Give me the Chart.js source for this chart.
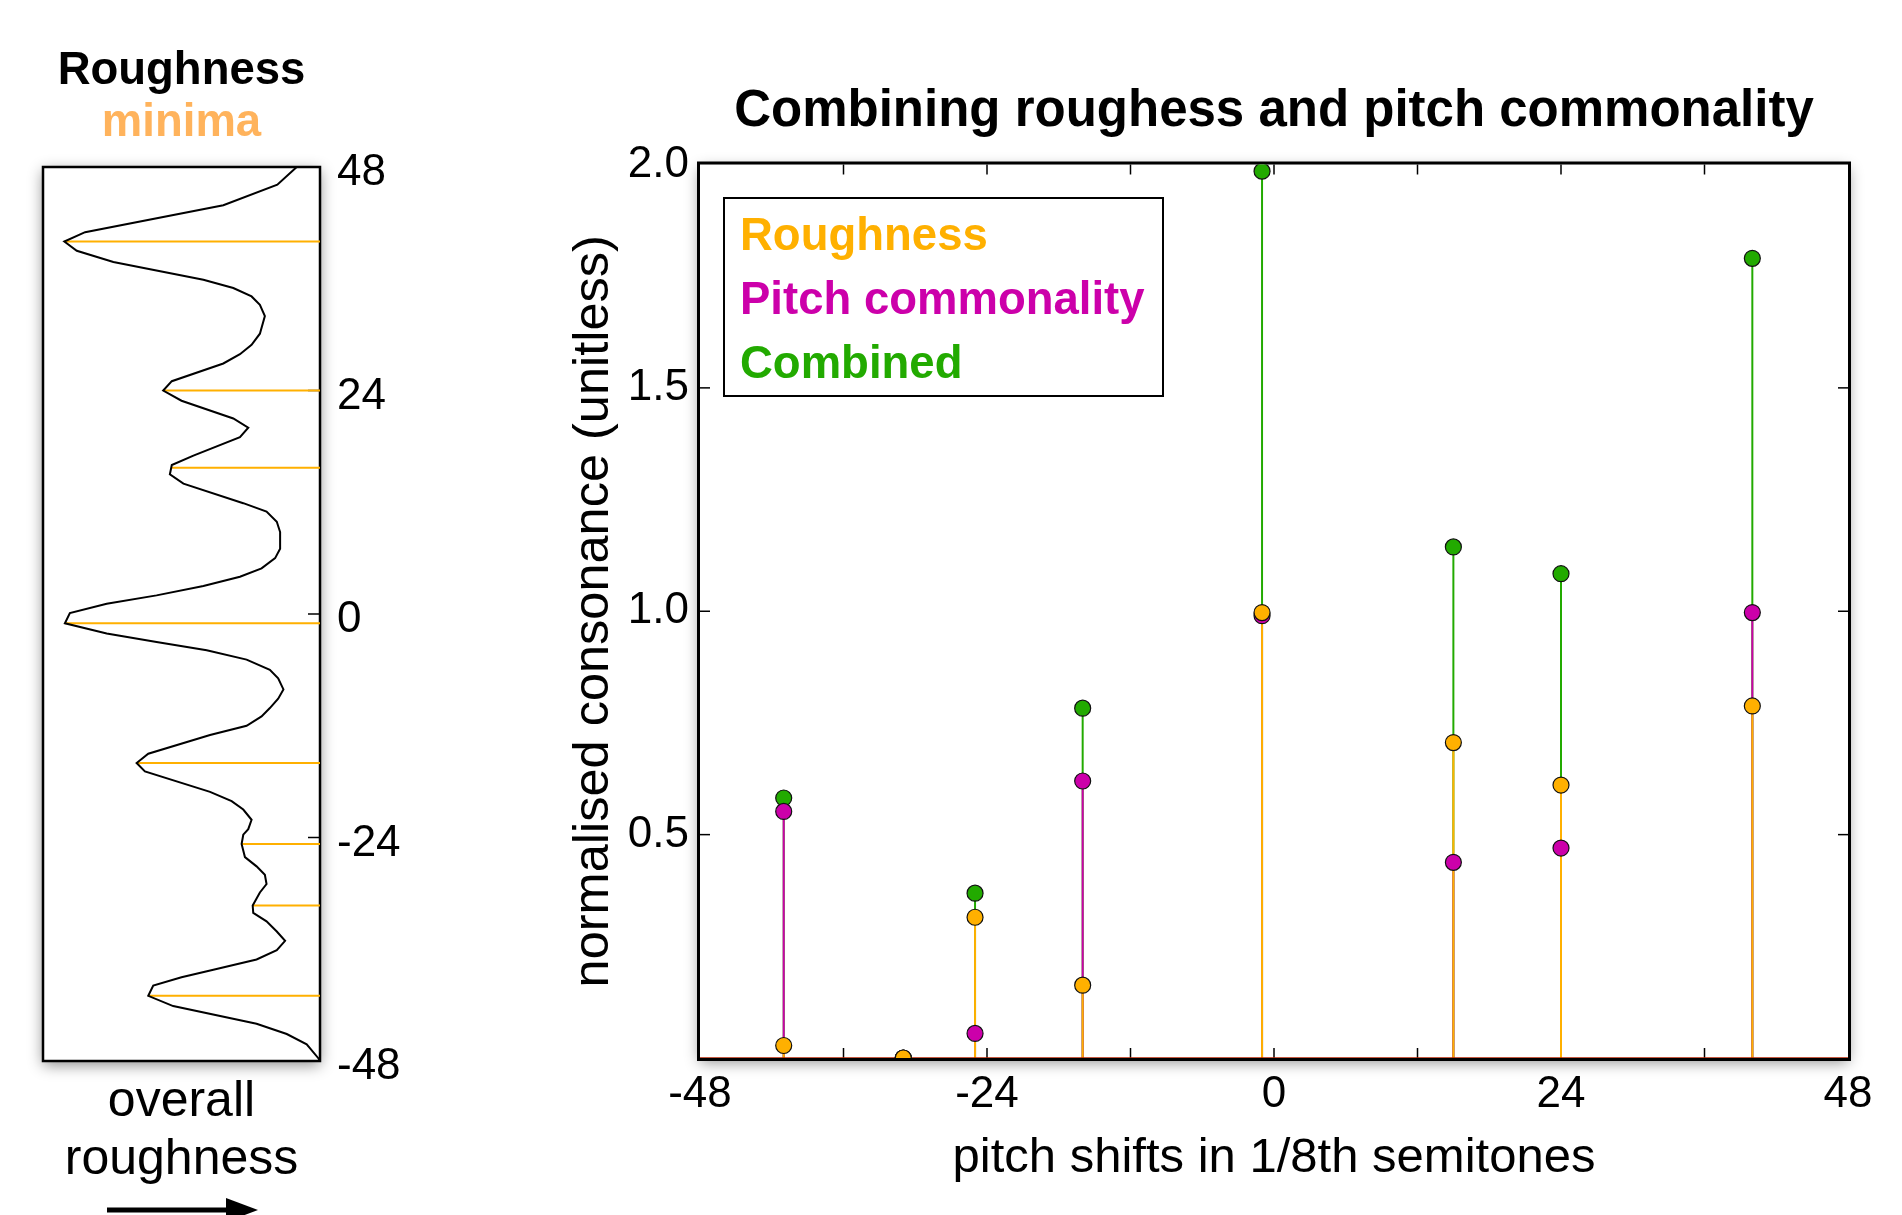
<!DOCTYPE html>
<html>
<head>
<meta charset="utf-8">
<title>Combining roughess and pitch commonality</title>
<script src="https://cdn.jsdelivr.net/npm/chart.js@4.4.1/dist/chart.umd.min.js"></script>
<style>
  html, body { margin: 0; padding: 0; background: #fff; }
  body { width: 1902px; height: 1215px; position: relative; overflow: hidden; }
  canvas { position: absolute; top: 0; }
  #roughChart { left: 0; }
  #stemChart { left: 440px; }
</style>
</head>
<body>
<canvas id="roughChart" width="440" height="1215"></canvas>
<canvas id="stemChart" width="1462" height="1215"></canvas>
<script>
(function () {
    'use strict';

    // ── Data ──────────────────────────────────────────────────────────────────
    // overall roughness curve along the pitch-shift axis (1/8th semitones)
    var curveShift = [48, 46.1, 43.9, 41.0, 40.0, 39.0, 37.8, 35.9, 35.0, 34.1, 33.2, 32.0,
        30.1, 28.9, 27.9, 26.9, 25.0, 24.0, 22.9, 21.0, 20.0, 19.0, 17.0, 16.0, 15.0, 14.0,
        11.9, 11.0, 9.9, 8.8, 7.0, 6.0, 4.9, 4.0, 3.0, 2.0, 1.1, 0.1, -1.0, -2.1, -3.0, -3.9,
        -4.9, -6.0, -6.9, -8.1, -9.1, -10.1, -11.0, -12.0, -13.0, -15.0, -16.0, -16.9, -19.1,
        -20.1, -21.0, -22.1, -23.1, -23.7, -24.7, -26.1, -27.1, -28.0, -29.0, -29.9, -31.3,
        -32.1, -33.0, -34.1, -35.1, -36.1, -37.1, -38.2, -39.0, -39.9, -41.0, -42.1, -44.0,
        -45.1, -46.2, -47.7, -48];
    var curveRough = [0.916, 0.846, 0.651, 0.152, 0.077, 0.122, 0.254, 0.579, 0.687, 0.753, 0.783, 0.801,
        0.783, 0.753, 0.711, 0.651, 0.465, 0.434, 0.500, 0.687, 0.741, 0.711, 0.543, 0.465, 0.458, 0.507,
        0.723, 0.807, 0.844, 0.856, 0.856, 0.838, 0.789, 0.711, 0.579, 0.410, 0.230, 0.097, 0.079, 0.230, 0.410, 0.591,
        0.735, 0.819, 0.849, 0.868, 0.849, 0.819, 0.789, 0.735, 0.603, 0.380, 0.338, 0.368, 0.603,
        0.681, 0.723, 0.753, 0.741, 0.723, 0.717, 0.729, 0.771, 0.801, 0.807, 0.783, 0.757,
        0.759, 0.807, 0.844, 0.874, 0.844, 0.771, 0.615, 0.500, 0.398, 0.380, 0.470, 0.771,
        0.880, 0.952, 0.994, 1.0];

    // local minima of the roughness curve
    var minimaShift = [40, 24, 15.7, -1, -16, -24.7, -31.3, -41];
    var minimaRough = [0.077, 0.434, 0.465, 0.079, 0.338, 0.717, 0.757, 0.380];
    var shiftTicks = [-48, -24, 0, 24, 48];
    var shiftTickMarks = [-24, 0, 24];

    // consonance measures at each candidate shift
    var shifts = [-41, -31, -25, -16, -1, 15, 24, 40];
    var roughness = [0.028, 0, 0.315, 0.163, 0.997, 0.706, 0.611, 0.788];
    var pitchCommonality = [0.552, 0, 0.055, 0.620, 0.990, 0.438, 0.470, 0.997];
    var combined = [0.582, 0, 0.369, 0.783, 1.985, 1.144, 1.084, 1.790];
    var seriesLabels = ['Roughness', 'Pitch commonality', 'Combined'];

    var xTickLabels = [-48, -24, 0, 24, 48];
    var xTickMarks = [-36, -24, -12, 0, 12, 24, 36];
    var yTickLabels = [0.5, 1.0, 1.5, 2.0];
    var yTickMarks = [0.5, 1.0, 1.5];

    // ── Style ─────────────────────────────────────────────────────────────────
    var FONT = '"Liberation Sans", Arial, Helvetica, sans-serif';
    var ORANGE = '#FFB000';
    var MAGENTA = '#CC00AA';
    var GREEN = '#22AA00';
    var seriesColors = [ORANGE, MAGENTA, GREEN];

    Chart.defaults.font.family = FONT;
    Chart.defaults.color = '#000';

    // ── Helpers ───────────────────────────────────────────────────────────────
    function points(xs, ys) {
        return xs.map(function (x, i) { return { x: x, y: ys[i] }; });
    }

    // vertical stems from zero up to each value, broken by null points
    function stems(values) {
        var pts = [];
        shifts.forEach(function (s, i) {
            pts.push({ x: s, y: 0 }, { x: s, y: values[i] }, { x: s, y: null });
        });
        return pts;
    }

    // white plot face with a soft drop shadow, then the black frame
    function drawFrame(chart, lineWidth, outset) {
        var a = chart.chartArea, ctx = chart.ctx;
        ctx.save();
        ctx.shadowColor = 'rgba(0,0,0,0.45)';
        ctx.shadowBlur = 14;
        ctx.shadowOffsetY = 4;
        ctx.fillStyle = '#fff';
        ctx.fillRect(a.left, a.top, a.right - a.left, a.bottom - a.top);
        ctx.restore();
        ctx.save();
        ctx.strokeStyle = '#000';
        ctx.lineWidth = lineWidth;
        ctx.strokeRect(a.left - outset, a.top - outset, a.right - a.left + 2 * outset, a.bottom - a.top + 2 * outset);
        ctx.restore();
    }

    function tickLine(ctx, x1, y1, x2, y2) {
        ctx.beginPath();
        ctx.moveTo(x1, y1);
        ctx.lineTo(x2, y2);
        ctx.stroke();
    }

    // ── Left panel: roughness curve ───────────────────────────────────────────
    var roughPanel = {
        id: 'roughPanel',
        beforeDatasetsDraw: function (chart) {
            var a = chart.chartArea, ctx = chart.ctx, y = chart.scales.y;
            drawFrame(chart, 2.5, 0);
            ctx.save();
            ctx.strokeStyle = '#000';
            ctx.lineWidth = 1.5;
            shiftTickMarks.forEach(function (v) {
                var py = y.getPixelForValue(v);
                tickLine(ctx, a.right - 12, py, a.right, py);
            });
            ctx.restore();
        },
        afterDraw: function (chart) {
            // direction arrow under the axis title
            var a = chart.chartArea, ctx = chart.ctx;
            var y0 = a.bottom + 149, x0 = a.left + 64, x1 = a.left + 215;
            ctx.save();
            ctx.strokeStyle = '#000';
            ctx.fillStyle = '#000';
            ctx.lineWidth = 5;
            tickLine(ctx, x0, y0, x1 - 28, y0);
            ctx.beginPath();
            ctx.moveTo(x1, y0);
            ctx.lineTo(x1 - 32, y0 - 12);
            ctx.lineTo(x1 - 32, y0 + 12);
            ctx.closePath();
            ctx.fill();
            ctx.restore();
        }
    };

    var minimaLines = [];
    minimaShift.forEach(function (s, i) {
        minimaLines.push({ x: minimaRough[i], y: s }, { x: 1, y: s }, { x: 1, y: null });
    });

    new Chart(document.getElementById('roughChart').getContext('2d'), {
        type: 'scatter',
        data: {
            datasets: [{
                label: 'overall roughness',
                data: points(curveRough, curveShift),
                showLine: true,
                borderColor: '#000',
                borderWidth: 2,
                pointRadius: 0,
                tension: 0,
            }, {
                label: 'minima',
                data: minimaLines,
                showLine: true,
                borderColor: ORANGE,
                borderWidth: 2,
                pointRadius: 0,
            }],
        },
        options: {
            responsive: false,
            animation: false,
            events: [],
            layout: { padding: { left: 43, right: 0, top: 0, bottom: 0 } },
            scales: {
                x: {
                    type: 'linear',
                    min: 0,
                    max: 1,
                    grid: { display: false, drawTicks: false },
                    border: { display: false },
                    ticks: { display: false },
                    title: {
                        display: true,
                        text: ['overall', 'roughness'],
                        font: { size: 50, lineHeight: 1.16 },
                        padding: { top: 0, bottom: 25.5 },
                    },
                    afterFit: function (scale) { scale.height = 154; },
                },
                y: {
                    type: 'linear',
                    position: 'right',
                    min: -48,
                    max: 48,
                    grid: { display: false, drawTicks: false },
                    border: { display: false },
                    afterBuildTicks: function (scale) {
                        scale.ticks = shiftTicks.map(function (v) { return { value: v }; });
                    },
                    ticks: {
                        autoSkip: false,
                        padding: 17,
                        labelOffset: 6,
                        font: { size: 44 },
                        callback: function (v) { return String(v); },
                    },
                    afterFit: function (scale) { scale.width = 120; },
                },
            },
            plugins: {
                legend: { display: false },
                tooltip: { enabled: false },
                title: {
                    display: true,
                    fullSize: false,
                    text: 'Roughness',
                    color: '#000',
                    font: { size: 45.5, weight: 'bold', lineHeight: 1.0 },
                    padding: { top: 48.5, bottom: 0 },
                },
                subtitle: {
                    display: true,
                    fullSize: false,
                    text: 'minima',
                    color: '#FFB35C',
                    font: { size: 45.5, weight: 'bold', lineHeight: 1.0 },
                    padding: { top: 6.5, bottom: 21 },
                },
            },
        },
        plugins: [roughPanel],
    });

    // ── Right panel: stem plot of the three measures ──────────────────────────
    var stemPanel = {
        id: 'stemPanel',
        beforeDatasetsDraw: function (chart) {
            var a = chart.chartArea, ctx = chart.ctx;
            var xs = chart.scales.x, ys = chart.scales.y;
            drawFrame(chart, 3, 1.5);
            ctx.save();
            ctx.strokeStyle = '#000';
            ctx.lineWidth = 1.5;
            xTickMarks.forEach(function (v) {
                var px = xs.getPixelForValue(v);
                tickLine(ctx, px, a.top, px, a.top + 10);
                tickLine(ctx, px, a.bottom - 10, px, a.bottom);
            });
            yTickMarks.forEach(function (v) {
                var py = ys.getPixelForValue(v);
                tickLine(ctx, a.left, py, a.left + 10, py);
                tickLine(ctx, a.right - 10, py, a.right, py);
            });
            ctx.restore();
        },
        afterDraw: function (chart) {
            // boxed legend with coloured text labels
            var a = chart.chartArea, ctx = chart.ctx;
            var bx = a.left + 24, by = a.top + 33.5, bw = 439, bh = 198;
            ctx.save();
            ctx.fillStyle = '#fff';
            ctx.fillRect(bx, by, bw, bh);
            ctx.strokeStyle = '#000';
            ctx.lineWidth = 2;
            ctx.strokeRect(bx, by, bw, bh);
            ctx.font = 'bold 45.5px ' + FONT;
            ctx.textBaseline = 'alphabetic';
            ctx.textAlign = 'left';
            seriesLabels.forEach(function (label, i) {
                ctx.fillStyle = seriesColors[i];
                ctx.fillText(label, bx + 16, by + 52 + i * 64);
            });
            ctx.restore();
        }
    };

    function markerSet(label, values, color) {
        return {
            label: label,
            data: points(shifts, values),
            pointRadius: 8,
            pointBorderWidth: 1.2,
            pointBorderColor: '#111',
            pointBackgroundColor: color,
            backgroundColor: color,
            clip: 0,
        };
    }

    function stemSet(label, values, color) {
        return {
            label: label,
            data: stems(values),
            showLine: true,
            spanGaps: false,
            borderColor: color,
            borderWidth: 2,
            pointRadius: 0,
        };
    }

    new Chart(document.getElementById('stemChart').getContext('2d'), {
        type: 'scatter',
        data: {
            // first dataset is drawn on top
            datasets: [
                markerSet(seriesLabels[0], roughness, ORANGE),
                markerSet(seriesLabels[1], pitchCommonality, MAGENTA),
                markerSet(seriesLabels[2], combined, GREEN),
                {
                    label: 'baseline',
                    data: [{ x: -48, y: 0 }, { x: 48, y: 0 }],
                    showLine: true,
                    borderColor: '#B02000',
                    borderWidth: 1.5,
                    pointRadius: 0,
                },
                stemSet(seriesLabels[0], roughness, ORANGE),
                stemSet(seriesLabels[1], pitchCommonality, MAGENTA),
                stemSet(seriesLabels[2], combined, GREEN),
            ],
        },
        options: {
            responsive: false,
            animation: false,
            events: [],
            layout: { padding: { left: 0, right: 54, top: 0, bottom: 0 } },
            scales: {
                x: {
                    type: 'linear',
                    min: -48,
                    max: 48,
                    grid: { display: false, drawTicks: false },
                    border: { display: false },
                    afterBuildTicks: function (scale) {
                        scale.ticks = xTickLabels.map(function (v) { return { value: v }; });
                    },
                    ticks: {
                        autoSkip: false,
                        maxRotation: 0,
                        padding: 10,
                        font: { size: 44 },
                        callback: function (v) { return String(v); },
                    },
                    title: {
                        display: true,
                        text: 'pitch shifts in 1/8th semitones',
                        font: { size: 49 },
                        padding: { top: 0, bottom: 27 },
                    },
                    afterFit: function (scale) { scale.height = 157; },
                },
                y: {
                    type: 'linear',
                    min: 0,
                    max: 2,
                    grid: { display: false, drawTicks: false },
                    border: { display: false },
                    afterBuildTicks: function (scale) {
                        scale.ticks = yTickLabels.map(function (v) { return { value: v }; });
                    },
                    ticks: {
                        autoSkip: false,
                        padding: 11,
                        font: { size: 44 },
                        callback: function (v) { return v.toFixed(1); },
                    },
                    title: {
                        display: true,
                        text: 'normalised consonance (unitless)',
                        font: { size: 50.5 },
                        padding: { top: 124, bottom: 0 },
                    },
                    afterFit: function (scale) { scale.width = 260; },
                },
            },
            plugins: {
                legend: { display: false },
                tooltip: { enabled: false },
                title: {
                    display: true,
                    fullSize: false,
                    text: 'Combining roughess and pitch commonality',
                    color: '#000',
                    font: { size: 51, weight: 'bold' },
                    padding: { top: 81, bottom: 22.3 },
                },
            },
        },
        plugins: [stemPanel],
    });

})();
</script>
</body>
</html>
